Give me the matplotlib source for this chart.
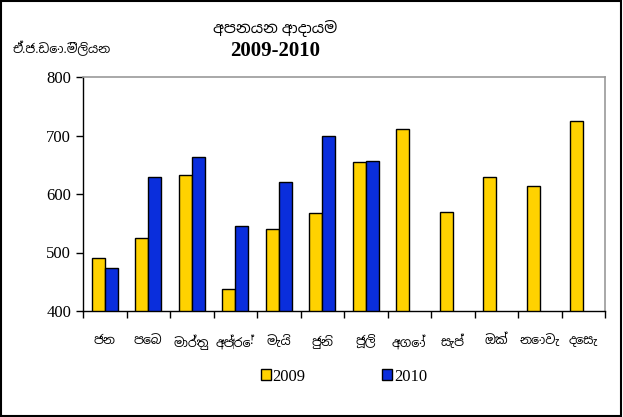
import numpy as np
import matplotlib
matplotlib.use('Agg')
import matplotlib.pyplot as plt
from matplotlib import font_manager
from matplotlib.patches import Rectangle

# Data
months = ['ජන', 'පෙබ', 'මාර්තු', 'අප්‍රේ', 'මැයි', 'ජුනි',
          'ජූලි', 'අගෝ', 'සැප්', 'ඔක්', 'නොවැ', 'දෙසැ']
exports_2009 = [491, 524, 632, 437, 540, 567, 654, 711, 570, 629, 613, 724]
exports_2010 = [473, 629, 664, 546, 621, 700, 656]
series_labels = ['2009', '2010']
yticks = [400, 500, 600, 700, 800]

# pick up a Sinhala font if one is installed
sinhala = [f.name for f in font_manager.fontManager.ttflist if 'Sinhala' in f.name]
families = ['Liberation Serif'] + sinhala[:1] + ['DejaVu Sans']
plt.rcParams['font.family'] = families

yellow = '#FFD200'
blue = '#0A2EDC'

fig = plt.figure(figsize=(6.23, 4.17), dpi=100)
ax = fig.add_axes([83 / 623, 1 - 311 / 417, 522 / 623, 234 / 417])

x = np.arange(len(months))
w = 0.3
ax.bar(x[:len(exports_2009)] - w / 2, exports_2009, w, color=yellow,
       edgecolor='black', linewidth=1, label=series_labels[0])
ax.bar(x[:len(exports_2010)] + w / 2, exports_2010, w, color=blue,
       edgecolor='black', linewidth=1, label=series_labels[1])

ax.set_ylim(400, 800)
ax.set_xlim(-0.5, len(months) - 0.5)
ax.set_yticks(yticks)
ax.set_yticklabels([str(v) for v in yticks], fontsize=12)
ax.set_xticks(np.arange(len(months) + 1) - 0.5)
ax.set_xticklabels([])
ax.set_xticks(x, minor=True)
ax.set_xticklabels(months, minor=True, fontsize=9)
ax.tick_params(axis='x', which='minor', length=0, pad=17)
ax.tick_params(axis='x', which='major', direction='out', length=5, width=1)
ax.tick_params(axis='y', direction='out', length=5, width=1)

for s in ['top', 'right']:
    ax.spines[s].set_color('#999999')
    ax.spines[s].set_linewidth(1.2)
for s in ['left', 'bottom']:
    ax.spines[s].set_color('black')
    ax.spines[s].set_linewidth(1)

# titles
fig.text(275 / 623, 1 - 28 / 417, 'අපනයන ආදායම', ha='center', va='center', fontsize=11)
fig.text(275 / 623, 1 - 51 / 417, '2009-2010', ha='center', va='center',
         fontsize=15, fontweight='bold')
fig.text(62 / 623, 1 - 48 / 417, 'ඒ.ජ.ඩො.මිලියන', ha='center', va='center', fontsize=9)

# legend
leg = ax.legend(loc='center', bbox_to_anchor=(0.5, -0.28), ncol=2, frameon=False,
                fontsize=12, handlelength=0.6, handleheight=0.6, handletextpad=0.1,
                columnspacing=4.6)

# outer frame
fig.patches.append(Rectangle((0.002, 0.003), 0.995, 0.994, transform=fig.transFigure,
                             fill=False, edgecolor='black', linewidth=1.5))

fig.savefig('out.png', dpi=100)
